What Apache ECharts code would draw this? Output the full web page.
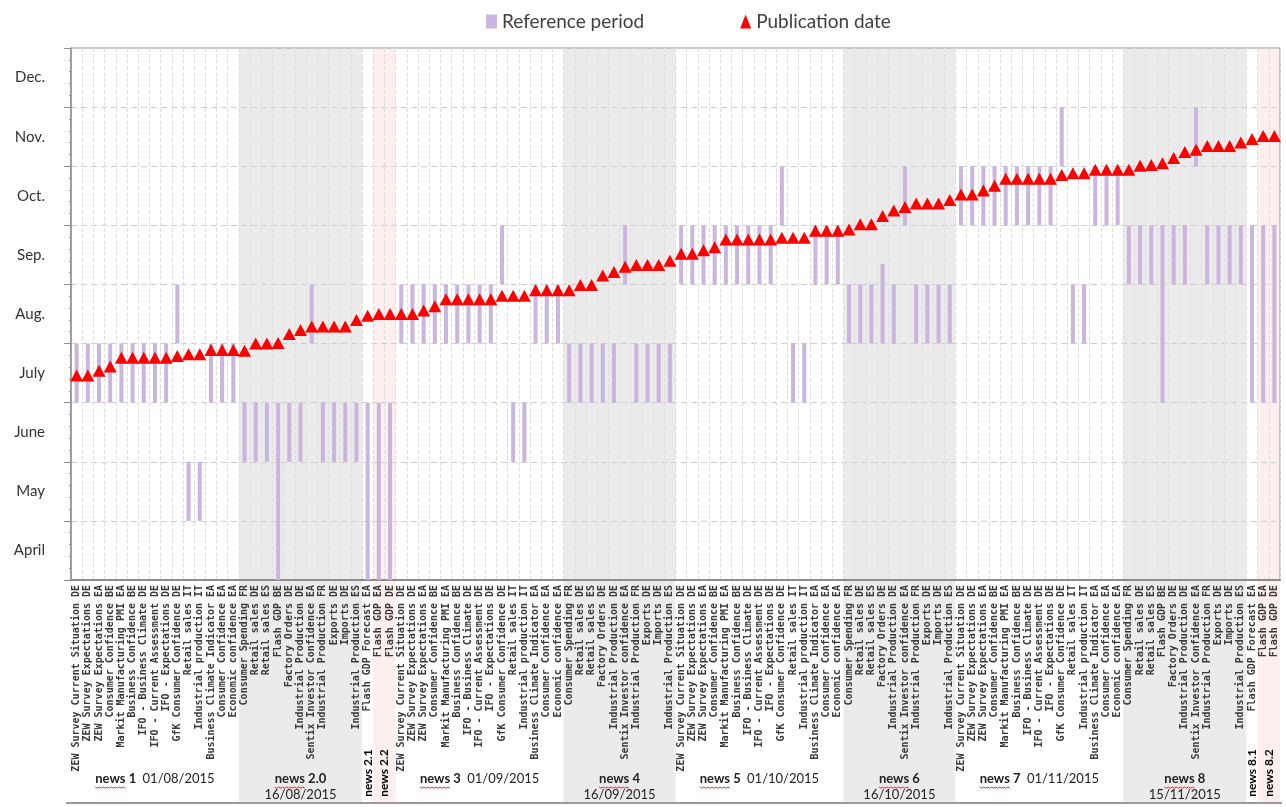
<!DOCTYPE html>
<html>
<head>
<meta charset="utf-8">
<script src="https://cdn.jsdelivr.net/npm/echarts@6/dist/echarts.min.js"></script>
<style>
html, body { margin: 0; padding: 0; background: #fff; }
#main { width: 1286px; height: 807px; }
</style>
</head>
<body>
<div id="main"></div>
<script>
// month bands, bottom to top
var monthLabels = ['April', 'May', 'June', 'July', 'Aug.', 'Sep.', 'Oct.', 'Nov.', 'Dec.'];

// indicator names, one block per kind of release
var surveyLabels = ['ZEW Survey Current Situation DE', 'ZEW Survey Expectations DE', 'ZEW Survey Expectations EA',
    'Consumer Confidence BE', 'Markit Manufacturing PMI EA', 'Business Confidence BE', 'IFO - Business Climate DE',
    'IFO - Current Assessment DE', 'IFO - Expectations DE', 'GfK Consumer Confidence DE', 'Retail sales IT',
    'Industrial production IT', 'Business Climate Indicator EA', 'Consumer Confidence EA', 'Economic confidence EA'];
var hardQLabels = ['Consumer Spending FR', 'Retail sales DE', 'Retail sales ES', 'Flash GDP BE', 'Factory Orders DE',
    'Industrial Production DE', 'Sentix Investor Confidence EA', 'Industrial Production FR', 'Exports DE',
    'Imports DE', 'Industrial Production ES'];
var hardLabels = ['Consumer Spending FR', 'Retail sales DE', 'Retail sales ES', 'Factory Orders DE',
    'Industrial Production DE', 'Sentix Investor confidence EA', 'Industrial Production FR', 'Exports DE',
    'Imports DE', 'Industrial Production ES'];
var flashForecastLabels = ['Flash GDP Forecast EA'];
var flashLabels = ['Flash GDP EA', 'Flash GDP DE'];

var categories = [].concat(surveyLabels, hardQLabels, flashForecastLabels, flashLabels,
    surveyLabels, hardLabels, surveyLabels, hardLabels, surveyLabels, hardQLabels,
    flashForecastLabels, flashLabels);

// reference period: start / end (0 = start of April)
var refStart = [
    3, 3, 3, 3, 3, 3, 3, 3, 3, 4, 1, 1, 3, 3, 3,
    2, 2, 2, 0, 2, 2, 4, 2, 2, 2, 2,
    0, 0, 0,
    4, 4, 4, 4, 4, 4, 4, 4, 4, 5, 2, 2, 4, 4, 4,
    3, 3, 3, 3, 3, 5, 3, 3, 3, 3,
    5, 5, 5, 5, 5, 5, 5, 5, 5, 6, 3, 3, 5, 5, 5,
    4, 4, 4, 4, 4, 6, 4, 4, 4, 4,
    6, 6, 6, 6, 6, 6, 6, 6, 6, 7, 4, 4, 6, 6, 6,
    5, 5, 5, 3, 5, 5, 7, 5, 5, 5, 5,
    3, 3, 3
];
var refEnd = [
    4, 4, 4, 4, 4, 4, 4, 4, 4, 5, 2, 2, 4, 4, 4,
    3, 3, 3, 3, 3, 3, 5, 3, 3, 3, 3,
    3, 3, 3,
    5, 5, 5, 5, 5, 5, 5, 5, 5, 6, 3, 3, 5, 5, 5,
    4, 4, 4, 4, 4, 6, 4, 4, 4, 4,
    6, 6, 6, 6, 6, 6, 6, 6, 6, 7, 4, 4, 6, 6, 6,
    5, 5, 5, 5.35, 5, 7, 5, 5, 5, 5,
    7, 7, 7, 7, 7, 7, 7, 7, 7, 8, 5, 5, 7, 7, 7,
    6, 6, 6, 6, 6, 6, 8, 6, 6, 6, 6,
    6, 6, 6
];
// publication date on the same month scale
var pubDate = [
    3.46, 3.46, 3.54, 3.61, 3.76, 3.76, 3.76, 3.76, 3.76, 3.79, 3.82, 3.82, 3.89, 3.89, 3.89,
    3.88, 4.00, 4.00, 4.01, 4.16, 4.23, 4.29, 4.29, 4.29, 4.29, 4.40,
    4.47, 4.50, 4.50,
    4.50, 4.50, 4.56, 4.63, 4.75, 4.75, 4.75, 4.75, 4.75, 4.81, 4.81, 4.81, 4.90, 4.90, 4.90,
    4.90, 4.99, 4.99, 5.15, 5.21, 5.30, 5.33, 5.33, 5.33, 5.40,
    5.52, 5.52, 5.58, 5.63, 5.76, 5.76, 5.76, 5.76, 5.76, 5.79, 5.79, 5.79, 5.91, 5.91, 5.91,
    5.93, 6.02, 6.02, 6.16, 6.25, 6.31, 6.37, 6.37, 6.37, 6.43,
    6.52, 6.52, 6.59, 6.67, 6.79, 6.79, 6.79, 6.79, 6.79, 6.85, 6.88, 6.88, 6.94, 6.94, 6.94,
    6.94, 7.01, 7.02, 7.05, 7.14, 7.24, 7.28, 7.34, 7.34, 7.34, 7.40,
    7.46, 7.51, 7.51
];

// news blocks along the x axis
var groupNames = ['news 1', 'news 2.0', 'news 2.1', 'news 2.2', 'news 3', 'news 4', 'news 5', 'news 6',
    'news 7', 'news 8', 'news 8.1', 'news 8.2'];
var groupDates = ['01/08/2015', '16/08/2015', '', '', '01/09/2015', '16/09/2015', '01/10/2015', '16/10/2015',
    '01/11/2015', '15/11/2015', '', ''];
var groupSizes = [15, 11, 1, 2, 15, 10, 15, 10, 15, 11, 1, 2];
var groupShade = ['white', 'gray', 'white', 'pink', 'white', 'gray', 'white', 'gray', 'white', 'gray', 'white', 'pink'];

var refLength = refEnd.map(function (v, i) { return +(v - refStart[i]).toFixed(2); });

var chart = echarts.init(document.getElementById('main'));

var option = {
    animation: false,
    backgroundColor: '#fff',
    legend: {
        left: 481,
        top: 7,
        itemGap: 96,
        itemWidth: 11,
        itemHeight: 14,
        textStyle: { fontSize: 19, color: '#404040', fontFamily: 'Lato' },
        data: [
            { name: 'Reference period', icon: 'rect' },
            { name: 'Publication date', icon: 'triangle' }
        ]
    },
    grid: {
        left: 71,
        right: 6,
        top: 48,
        bottom: 227,
        show: true,
        borderColor: '#999',
        borderWidth: 1,
        outerBoundsMode: 'none'
    },
    xAxis: {
        type: 'category',
        data: categories,
        boundaryGap: true,
        axisLine: { lineStyle: { color: '#8c8c8c', width: 2 } },
        axisTick: { show: false },
        axisLabel: {
            interval: 0,
            rotate: 90,
            margin: 5,
            fontFamily: 'DejaVu Sans Mono',
            fontSize: 10,
            fontWeight: 'bold',
            color: '#3a3a3a'
        },
        splitLine: { show: true, interval: 0, lineStyle: { color: '#dedede', type: 'dashed', width: 1 } }
    },
    yAxis: [{
        type: 'value',
        min: 0,
        max: 9,
        interval: 1,
        axisLine: { show: true, lineStyle: { color: '#8c8c8c', width: 1.5 } },
        axisTick: { show: true, length: 7, lineStyle: { color: '#8c8c8c' } },
        minorTick: { show: true, splitNumber: 5, length: 2, lineStyle: { color: '#999' } },
        axisLabel: { show: false },
        splitLine: { show: true, lineStyle: { color: '#cfcfcf', type: [6, 4] } }
    }, {
        type: 'category',
        data: monthLabels,
        position: 'left',
        boundaryGap: true,
        axisLine: { show: false },
        axisTick: { show: false },
        splitLine: { show: false },
        axisLabel: { margin: 26, fontSize: 15, color: '#333', fontFamily: 'Lato' }
    }],
    series: [{
        name: 'base',
        type: 'bar',
        stack: 'ref',
        barWidth: 4,
        silent: true,
        itemStyle: { color: 'rgba(0,0,0,0)' },
        data: refStart
    }, {
        name: 'Reference period',
        type: 'bar',
        stack: 'ref',
        barWidth: 4,
        itemStyle: { color: '#c9b5de' },
        data: refLength
    }, {
        name: 'Publication date',
        type: 'scatter',
        symbol: 'triangle',
        symbolSize: [13, 12],
        itemStyle: { color: '#ff0000', opacity: 1 },
        z: 5,
        data: pubDate
    }]
};

chart.setOption(option);

// shaded news blocks and their captions below the axis labels
function drawGroups() {
    var x0 = chart.convertToPixel({ xAxisIndex: 0 }, 0);
    var x1 = chart.convertToPixel({ xAxisIndex: 0 }, 1);
    var step = x1 - x0;
    var topY = chart.convertToPixel({ yAxisIndex: 0 }, 9);
    var axisY = chart.convertToPixel({ yAxisIndex: 0 }, 0);
    var bottomY = chart.getHeight() - 4;
    var ctx = document.createElement('canvas').getContext('2d');
    ctx.font = 'bold 13px Lato';
    var newsW = ctx.measureText('news').width;

    var elements = [];
    var idx = 0;
    groupSizes.forEach(function (size, g) {
        var left = chart.convertToPixel({ xAxisIndex: 0 }, idx) - step / 2;
        var width = size * step;
        var cx = left + width / 2;
        if (groupShade[g] !== 'white') {
            elements.push({
                type: 'rect', z: -10, silent: true,
                shape: { x: left, y: topY, width: width, height: bottomY - topY },
                style: { fill: groupShade[g] === 'gray' ? '#ebebeb' : '#fcefee' }
            });
        }
        var underline = [];
        if (!groupDates[g]) {
            elements.push({
                type: 'text', z: 20, x: cx, y: axisY + 193, rotation: Math.PI / 2,
                style: { text: groupNames[g], font: 'bold 12px Lato', fill: '#000', align: 'center', verticalAlign: 'middle' }
            });
        } else if (groupShade[g] === 'white') {
            ctx.font = 'bold 13px Lato';
            var w1 = ctx.measureText(groupNames[g] + '  ').width;
            ctx.font = '13px Lato';
            var w2 = ctx.measureText(groupDates[g]).width;
            var startX = cx - (w1 + w2) / 2;
            elements.push({
                type: 'text', z: 20, x: startX, y: axisY + 199,
                style: { text: groupNames[g], font: 'bold 13px Lato', fill: '#222', align: 'left', verticalAlign: 'middle' }
            });
            elements.push({
                type: 'text', z: 20, x: startX + w1, y: axisY + 199,
                style: { text: groupDates[g], font: '13px Lato', fill: '#222', align: 'left', verticalAlign: 'middle' }
            });
            underline = [startX, axisY + 207];
        } else {
            ctx.font = 'bold 13px Lato';
            var wn = ctx.measureText(groupNames[g]).width;
            elements.push({
                type: 'text', z: 20, x: cx, y: axisY + 199,
                style: { text: groupNames[g], font: 'bold 13px Lato', fill: '#222', align: 'center', verticalAlign: 'middle' }
            });
            elements.push({
                type: 'text', z: 20, x: cx, y: axisY + 215,
                style: { text: groupDates[g], font: '13px Lato', fill: '#222', align: 'center', verticalAlign: 'middle' }
            });
            underline = [cx - wn / 2, axisY + 207];
        }
        if (underline.length) {
            var pts = [];
            for (var k = 0; k <= Math.round(newsW / 2); k++) {
                pts.push([underline[0] + k * 2, underline[1] + (k % 2 ? 1.2 : 0)]);
            }
            elements.push({
                type: 'polyline', z: 20, silent: true,
                shape: { points: pts },
                style: { stroke: '#e03030', lineWidth: 1, fill: null }
            });
        }
        idx += size;
    });

    // bottom rule of the label area
    elements.push({
        type: 'line', z: 20, silent: true,
        shape: { x1: x0 - step / 2 - 5, y1: bottomY, x2: chart.convertToPixel({ xAxisIndex: 0 }, categories.length - 1) + step / 2 + 2, y2: bottomY },
        style: { stroke: '#9a9a9a', lineWidth: 2 }
    });

    chart.setOption({ graphic: { elements: elements } });
}

drawGroups();
</script>
</body>
</html>
